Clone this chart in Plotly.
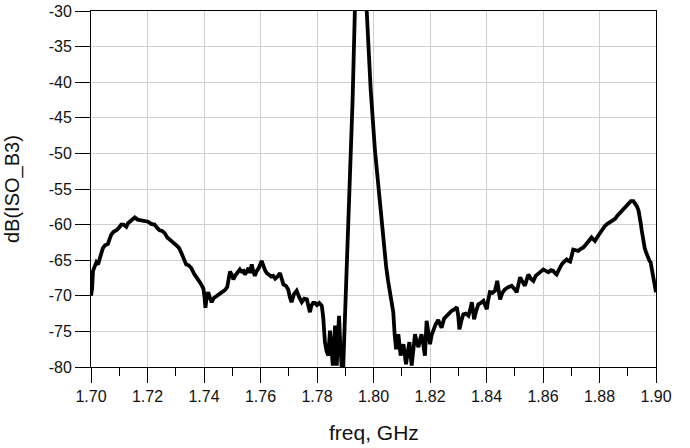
import plotly.graph_objects as go

freq = [1.7000,1.7004,1.7007,1.7012,1.7019,1.7025,1.7031,1.7036,1.7042,1.7050,1.7060,1.7066,1.7072,1.7080,1.7090,1.7100,1.7107,1.7115,1.7125,1.7131,1.7137,1.7145,1.7155,1.7165,1.7178,1.7190,1.7202,1.7212,1.7225,1.7235,1.7243,1.7252,1.7261,1.7270,1.7279,1.7290,1.7302,1.7312,1.7320,1.7328,1.7337,1.7345,1.7355,1.7365,1.7373,1.7382,1.7390,1.7398,1.7402,1.7405,1.7410,1.7415,1.7421,1.7427,1.7435,1.7445,1.7455,1.7465,1.7474,1.7482,1.7488,1.7492,1.7498,1.7504,1.7510,1.7518,1.7527,1.7533,1.7540,1.7545,1.7552,1.7558,1.7563,1.7569,1.7574,1.7580,1.7587,1.7595,1.7604,1.7610,1.7616,1.7622,1.7630,1.7638,1.7645,1.7652,1.7660,1.7669,1.7675,1.7681,1.7690,1.7698,1.7704,1.7710,1.7718,1.7728,1.7737,1.7746,1.7755,1.7764,1.7770,1.7775,1.7780,1.7786,1.7793,1.7800,1.7808,1.7817,1.7822,1.7828,1.7834,1.7840,1.7846,1.7851,1.7856,1.7860,1.7864,1.7867,1.7870,1.7874,1.7878,1.7882,1.7887,1.7893,1.7897,1.7903,1.7910,1.7918,1.7926,1.7934,1.7942,1.7950,1.7958,1.7966,1.7976,1.7990,1.8005,1.8020,1.8035,1.8045,1.8052,1.8058,1.8064,1.8070,1.8075,1.8080,1.8088,1.8096,1.8106,1.8115,1.8121,1.8127,1.8135,1.8141,1.8147,1.8153,1.8159,1.8165,1.8170,1.8176,1.8182,1.8188,1.8194,1.8200,1.8206,1.8212,1.8220,1.8229,1.8235,1.8241,1.8250,1.8259,1.8268,1.8277,1.8286,1.8295,1.8300,1.8304,1.8311,1.8318,1.8327,1.8336,1.8342,1.8348,1.8352,1.8356,1.8363,1.8371,1.8380,1.8389,1.8395,1.8401,1.8406,1.8412,1.8421,1.8430,1.8438,1.8443,1.8448,1.8456,1.8465,1.8477,1.8489,1.8498,1.8507,1.8513,1.8519,1.8527,1.8536,1.8542,1.8548,1.8557,1.8566,1.8574,1.8583,1.8592,1.8601,1.8610,1.8619,1.8628,1.8636,1.8642,1.8648,1.8657,1.8666,1.8675,1.8684,1.8690,1.8696,1.8702,1.8707,1.8716,1.8725,1.8734,1.8743,1.8752,1.8760,1.8766,1.8772,1.8778,1.8784,1.8793,1.8802,1.8810,1.8819,1.8828,1.8837,1.8846,1.8855,1.8864,1.8873,1.8882,1.8890,1.8896,1.8902,1.8911,1.8920,1.8926,1.8932,1.8938,1.8943,1.8946,1.8949,1.8952,1.8955,1.8960,1.8965,1.8969,1.8973,1.8977,1.8981,1.8985,1.8988,1.8992,1.8996,1.9000]

iso_b3_db = [-70.0,-69.0,-66.5,-66.0,-65.3,-65.6,-64.8,-64.2,-63.3,-62.9,-62.7,-62.0,-61.4,-61.0,-60.8,-60.4,-60.0,-60.0,-60.3,-59.8,-59.6,-59.5,-59.0,-59.3,-59.4,-59.5,-59.6,-59.9,-60.0,-60.5,-60.8,-60.9,-61.2,-61.8,-62.2,-62.5,-62.9,-63.3,-64.0,-64.9,-65.6,-65.7,-66.1,-66.9,-67.5,-67.9,-68.4,-69.0,-70.2,-71.7,-70.0,-69.5,-70.3,-70.9,-70.3,-70.0,-69.7,-69.5,-69.2,-68.8,-67.5,-66.6,-67.0,-67.7,-67.2,-66.7,-66.3,-66.6,-66.5,-67.0,-66.4,-66.1,-66.8,-65.6,-66.5,-67.2,-66.5,-66.0,-65.1,-66.0,-66.4,-66.8,-67.0,-67.3,-67.2,-67.6,-67.3,-66.8,-67.6,-68.4,-68.6,-69.1,-70.2,-70.9,-69.8,-69.3,-70.2,-70.9,-70.4,-70.5,-71.5,-72.3,-71.4,-71.0,-71.0,-71.3,-71.0,-71.4,-73.0,-76.5,-77.8,-78.4,-74.9,-77.5,-79.8,-77.0,-74.2,-77.0,-79.8,-76.0,-72.8,-76.5,-79.8,-79.8,-75.5,-68.0,-61.5,-53.0,-42.5,-30.0,-22.0,-20.0,-20.5,-23.5,-30.0,-41.0,-49.5,-56.0,-62.1,-66.0,-68.0,-69.5,-71.0,-72.3,-75.5,-77.5,-75.4,-78.4,-76.8,-79.6,-78.0,-76.5,-79.8,-77.5,-75.4,-76.5,-77.2,-76.1,-75.4,-76.8,-78.4,-73.5,-75.0,-76.8,-75.5,-74.7,-74.0,-73.4,-73.9,-74.5,-73.2,-72.8,-72.6,-72.1,-71.9,-71.6,-72.8,-74.7,-73.5,-72.6,-72.5,-72.8,-72.0,-70.9,-72.0,-73.3,-72.2,-71.2,-71.0,-70.7,-71.3,-71.9,-70.6,-69.5,-69.6,-69.3,-67.9,-69.2,-70.5,-69.6,-69.1,-68.8,-68.6,-69.0,-69.5,-68.4,-67.4,-68.0,-68.6,-67.8,-67.0,-67.6,-67.9,-67.2,-66.8,-66.6,-66.3,-66.5,-66.7,-66.4,-66.5,-66.8,-67.0,-66.3,-65.6,-65.2,-64.9,-65.1,-65.2,-64.3,-63.5,-63.6,-63.7,-63.4,-63.2,-62.8,-62.5,-62.1,-61.8,-62.1,-62.3,-61.7,-61.1,-60.6,-60.2,-59.9,-59.7,-59.5,-59.2,-58.7,-58.3,-57.9,-57.6,-57.2,-56.9,-56.7,-56.7,-57.0,-57.4,-58.0,-58.8,-59.8,-60.7,-61.6,-62.5,-63.3,-63.9,-64.4,-64.9,-65.1,-65.3,-66.2,-67.0,-67.8,-68.6,-69.5]

x_tickvals = [1.70, 1.72, 1.74, 1.76, 1.78, 1.80, 1.82, 1.84, 1.86, 1.88, 1.90]
x_ticktext = ["1.70", "1.72", "1.74", "1.76", "1.78", "1.80", "1.82", "1.84", "1.86", "1.88", "1.90"]
y_tickvals = [-80, -75, -70, -65, -60, -55, -50, -45, -40, -35, -30]
y_ticktext = ["-80", "-75", "-70", "-65", "-60", "-55", "-50", "-45", "-40", "-35", "-30"]

x_title = "freq, GHz"
y_title = "dB(ISO_B3)"

font_family = "Liberation Sans, Arial, Helvetica, sans-serif"

fig = go.Figure()
fig.add_trace(go.Scatter(
    x=freq, y=iso_b3_db, mode="lines",
    line=dict(color="black", width=3.8),
    showlegend=False,
))

fig.update_layout(
    width=690, height=448,
    margin=dict(l=91, r=34, t=11, b=81, autoexpand=False),
    paper_bgcolor="white", plot_bgcolor="white",
    font=dict(family=font_family, size=16, color="#111"),
)
fig.update_xaxes(
    range=[1.70, 1.90], tickvals=x_tickvals, ticktext=x_ticktext,
    showgrid=True, gridcolor="#cfcfcf", gridwidth=1,
    showline=True, linecolor="black", linewidth=1, mirror=True,
    ticks="outside", ticklen=15, tickcolor="black", tickwidth=1,
    minor=dict(dtick=0.01, tick0=1.70, ticks="outside", ticklen=8, tickcolor="black", showgrid=False),
    zeroline=False, automargin=False,
    tickfont=dict(size=16),
)
fig.update_yaxes(
    range=[-80, -30], tickvals=y_tickvals, ticktext=y_ticktext,
    showgrid=True, gridcolor="#cfcfcf", gridwidth=1,
    showline=True, linecolor="black", linewidth=1, mirror=True,
    ticks="outside", ticklen=15, tickcolor="black", tickwidth=1,
    zeroline=False, automargin=False,
    tickfont=dict(size=16),
)

fig.add_annotation(
    text=x_title, xref="x domain", yref="y domain", x=0.5, y=0,
    yshift=-65, xanchor="center", yanchor="middle", showarrow=False,
    font=dict(size=21, family=font_family, color="#111"),
)
fig.add_annotation(
    text=y_title, xref="x domain", yref="y domain", x=0, y=0.5,
    xshift=-79, xanchor="center", yanchor="middle", showarrow=False,
    textangle=-90, font=dict(size=20, family=font_family, color="#111"),
)

fig.write_html("out.html")
